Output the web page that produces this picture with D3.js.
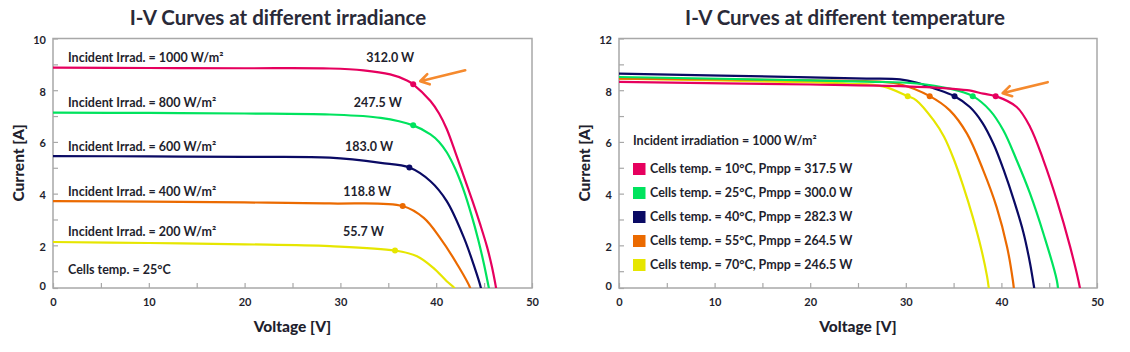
<!DOCTYPE html>
<html lang="en">
<head>
<meta charset="UTF-8">
<title>I-V Curves</title>
<script src="https://d3js.org/d3.v7.min.js"></script>
<style>
  body { margin: 0; background: #fff; }
  svg text { font-family: Lato, "Open Sans", sans-serif; fill: #1f1f2e; }
</style>
</head>
<body>
<svg id="chart" width="1130" height="352"></svg>
<script>
// ---- data: irradiance panel (voltage V, current A) ----
const irr1000 = [[0,8.87],[10,8.86],[20,8.85],[28.9,8.84],[32.4,8.77],[35.2,8.61],[36.95,8.38],[37.6,8.23],[39.4,7.58],[40.3,7.1],[41.1,6.5],[42.0,5.6],[42.9,4.65],[43.8,3.7],[44.6,2.8],[45.3,1.95],[45.8,1.2],[46.2,0.45],[46.4,0]];
const irr800  = [[0,7.13],[10,7.12],[20,7.1],[28.9,7.06],[34.2,6.93],[37.6,6.64],[39.4,6.29],[40.3,6.0],[41.1,5.6],[42.0,4.95],[42.9,4.1],[43.7,3.15],[44.4,2.2],[45.0,1.25],[45.5,0.35],[45.7,0]];
const irr600  = [[0,5.45],[10,5.44],[20,5.42],[28.9,5.39],[34.2,5.19],[37.2,5.01],[39.4,4.48],[41.1,3.71],[42.9,2.29],[43.9,1.26],[44.7,0.3],[44.8,0]];
const irr400  = [[0,3.71],[10,3.69],[20,3.66],[28.9,3.62],[36.5,3.52],[38.7,3.06],[40.4,2.29],[42.2,1.26],[43.6,0.3],[43.7,0]];
const irr200  = [[0,2.13],[10,2.09],[20,2.04],[28.9,1.97],[35.7,1.80],[38.0,1.58],[39.7,1.13],[41.1,0.61],[42.0,0.3],[42.1,0]];
const irrCurves = [irr1000, irr800, irr600, irr400, irr200];
const irrMpp = [[37.6,8.23],[37.6,6.64],[37.2,5.01],[36.5,3.52],[35.7,1.80]];
const irrLabels = ["Incident Irrad. = 1000 W/m²","Incident Irrad. = 800 W/m²","Incident Irrad. = 600 W/m²","Incident Irrad. = 400 W/m²","Incident Irrad. = 200 W/m²"];
const irrPower = ["312.0 W","247.5 W","183.0 W","118.8 W","55.7 W"];
const irrPowerV = [35.2, 33.9, 33.0, 32.8, 32.4];

// ---- data: temperature panel ----
const temp10 = [[0,8.32],[20,8.22],[30,8.15],[34,8.08],[36.4,8.0],[38.1,7.87],[39.4,7.77],[41.6,7.35],[43.0,6.58],[44.4,5.29],[45.8,3.74],[47.2,1.93],[48.2,0.38],[48.35,0]];
const temp25 = [[0,8.51],[20,8.38],[26,8.33],[31.1,8.26],[34.6,8.06],[37.0,7.77],[38.8,7.22],[40.2,6.45],[41.6,5.29],[43.0,4.0],[44.4,2.45],[45.8,0.64],[46.0,0]];
const temp40 = [[0,8.64],[20,8.5],[26,8.45],[29.4,8.42],[31.1,8.3],[32.9,8.08],[35.1,7.77],[36.7,7.35],[38.0,6.75],[39.2,5.9],[40.3,4.85],[41.3,3.75],[42.3,2.5],[43.0,1.3],[43.5,0.2],[43.6,0]];
const temp55 = [[0,8.45],[20,8.38],[27.6,8.32],[29.4,8.23],[32.5,7.77],[34.6,7.22],[36.4,6.32],[38.1,4.9],[39.5,3.48],[40.6,1.93],[41.2,0.64],[41.4,0]];
const temp70 = [[0,8.45],[20,8.3],[24.1,8.25],[27.6,8.15],[30.2,7.77],[31.1,7.61],[32.9,6.84],[34.0,6.2],[35.0,5.35],[36.0,4.3],[37.0,3.1],[37.9,1.85],[38.5,0.8],[38.7,0.3],[38.8,0]];
const tempCurves = [temp10, temp25, temp40, temp55, temp70];
const tempMpp = [[39.4,7.77],[37.0,7.77],[35.1,7.77],[32.5,7.77],[30.2,7.77]];
const tempLabels = ["Cells temp. = 10°C, Pmpp = 317.5 W","Cells temp. = 25°C, Pmpp = 300.0 W","Cells temp. = 40°C, Pmpp = 282.3 W","Cells temp. = 55°C, Pmpp = 264.5 W","Cells temp. = 70°C, Pmpp = 246.5 W"];

const seriesColors = ["#e6005e","#00e35e","#0a0a64","#eb6a00","#e6e600"];
const xTicks = d3.range(0, 51, 5);
const yTicks = [0.35,1,2,3,4,5,6,7,8,9,10];
const leftYLabels = {0.35:"0",2:"2",4:"4",6:"6",8:"8",10:"10"};
const rightYLabels = {0.35:"0",2:"2",4:"4",6:"6",8:"8",10:"12"};

const svg = d3.select("#chart");
const plotTop = 38.5, plotBottom = 288;

function panel(id, x0, x1, title, titleX, yLabels, curves, mpp) {
  const g = svg.append("g");
  const x = d3.scaleLinear().domain([0, 50]).range([x0, x1]);
  const y = d3.scaleLinear().domain([0.35, 10]).range([plotBottom, plotTop]);

  g.append("text").attr("x", titleX).attr("y", 25)
    .attr("text-anchor", "middle").style("font-size", "20.5px").style("font-weight", "bold")
    .style("fill", "#2a2a38").text(title);

  // x axis, ticks pointing inward
  const xa = g.append("g").attr("transform", `translate(0,${plotBottom})`)
    .call(d3.axisBottom(x).tickValues(xTicks).tickSize(-5).tickPadding(10)
      .tickFormat(d => d % 10 === 0 ? d : ""));
  // y axis
  const ya = g.append("g").attr("transform", `translate(${x0},0)`)
    .call(d3.axisLeft(y).tickValues(yTicks).tickSize(-5).tickPadding(7)
      .tickFormat(d => yLabels[d] || ""));
  [xa, ya].forEach(a => {
    a.select(".domain").remove();
    a.selectAll(".tick line").attr("stroke", "#a8a8a8").attr("stroke-width", 1.2);
    a.selectAll(".tick text").style("font-size", "11px").style("font-weight", "bold").attr("fill", "#1f1f2e");
  });
  ya.selectAll(".tick text").attr("dy", d => d < 1 ? "0.1em" : "0.45em");

  g.append("rect").attr("x", x0).attr("y", plotTop).attr("width", x1 - x0).attr("height", plotBottom - plotTop)
    .attr("fill", "none").attr("stroke", "#a8a8a8").attr("stroke-width", 1.5);

  g.append("text").attr("x", (x0 + x1) / 2).attr("y", 332).attr("text-anchor", "middle")
    .style("font-size", "15.5px").style("font-weight", "900").text("Voltage [V]");
  g.append("text").attr("transform", `translate(${x0 - 29},163) rotate(-90)`).attr("text-anchor", "middle")
    .style("font-size", "15.5px").style("font-weight", "900").text("Current [A]");

  g.append("clipPath").attr("id", id).append("rect")
    .attr("x", x0).attr("y", plotTop).attr("width", x1 - x0).attr("height", plotBottom - plotTop);

  const line = d3.line().x(d => x(d[0])).y(d => y(d[1])).curve(d3.curveCatmullRom.alpha(0.5));
  const plot = g.append("g").attr("clip-path", `url(#${id})`);
  // draw back to front so the first series ends on top
  curves.map((c, i) => i).reverse().forEach(i => {
    plot.append("path").datum(curves[i]).attr("d", line)
      .attr("fill", "none").attr("stroke", seriesColors[i]).attr("stroke-width", 2.2);
  });
  plot.selectAll("circle.mpp").data(mpp).join("circle").attr("class", "mpp")
    .attr("cx", d => x(d[0])).attr("cy", d => y(d[1])).attr("r", 3)
    .attr("fill", (d, i) => seriesColors[i]);

  // orange arrow pointing at the first MPP
  const tipX = x(mpp[0][0]) + 7, tipY = y(mpp[0][1]) - 3;
  const tailX = tipX + 45, tailY = tipY - 11;
  const ang = Math.atan2(tailY - tipY, tailX - tipX);
  const hx = a => tipX + 10 * Math.cos(ang + a), hy = a => tipY + 10 * Math.sin(ang + a);
  g.append("path")
    .attr("d", `M${tailX},${tailY}L${tipX},${tipY}M${hx(0.55)},${hy(0.55)}L${tipX},${tipY}L${hx(-0.55)},${hy(-0.55)}`)
    .attr("fill", "none").attr("stroke", "#f58a2e").attr("stroke-width", 2.6)
    .attr("stroke-linecap", "round").attr("stroke-linejoin", "round");

  return { g, x, y };
}

const left = panel("clipL", 53, 532, "I-V Curves at different irradiance", 278, leftYLabels, irrCurves, irrMpp);
const right = panel("clipR", 619, 1097, "I-V Curves at different temperature", 845, rightYLabels, tempCurves, tempMpp);

// irradiance labels above each curve
irrCurves.forEach((c, i) => {
  const ly = left.y(c[0][1]) - 10;
  left.g.append("text").attr("x", 68).attr("y", ly).attr("dy", "0.35em")
    .style("font-size", "12.5px").style("font-weight", "bold").text(irrLabels[i]);
  left.g.append("text").attr("x", left.x(irrPowerV[i])).attr("y", ly).attr("dy", "0.35em")
    .attr("text-anchor", "middle").style("font-size", "12.5px").style("font-weight", "bold").text(irrPower[i]);
});
left.g.append("text").attr("x", 68).attr("y", 270).attr("dy", "0.35em")
  .style("font-size", "12.5px").style("font-weight", "bold").text("Cells temp. = 25°C");

// temperature legend
right.g.append("text").attr("x", 633).attr("y", 141).attr("dy", "0.35em")
  .style("font-size", "12.5px").style("font-weight", "bold").text("Incident irradiation = 1000 W/m²");
tempLabels.forEach((t, i) => {
  const ry = 169 + i * 24;
  right.g.append("rect").attr("x", 633).attr("y", ry - 6).attr("width", 12.5).attr("height", 12)
    .attr("fill", seriesColors[i]);
  right.g.append("text").attr("x", 650).attr("y", ry).attr("dy", "0.35em")
    .style("font-size", "12.5px").style("font-weight", "bold").text(t);
});
</script>
</body>
</html>
